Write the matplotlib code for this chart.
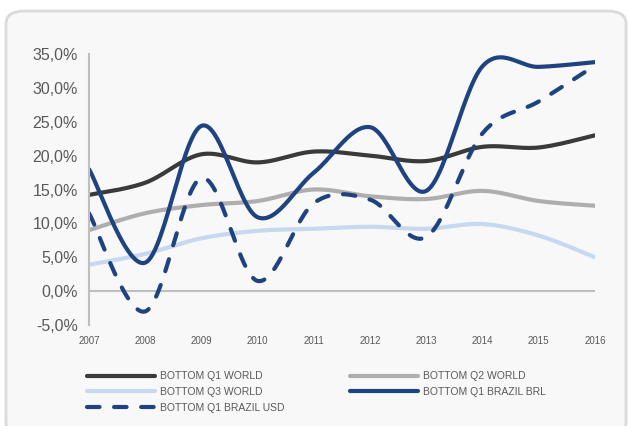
import numpy as np
import matplotlib.pyplot as plt
from matplotlib.patches import FancyBboxPatch
from matplotlib.ticker import FuncFormatter

plt.rcParams['font.family'] = ['Liberation Sans', 'DejaVu Sans']

years = [2007, 2008, 2009, 2010, 2011, 2012, 2013, 2014, 2015, 2016]
q1_world = [14.2, 16.0, 20.2, 19.0, 20.6, 20.0, 19.2, 21.3, 21.2, 23.0]
q2_world = [9.0, 11.5, 12.7, 13.3, 15.0, 14.0, 13.6, 14.8, 13.3, 12.6]
q3_world = [3.9, 5.5, 7.8, 8.9, 9.2, 9.5, 9.2, 9.9, 8.2, 5.0]
q1_brl = [18.0, 4.2, 24.4, 10.9, 17.5, 24.2, 14.8, 33.2, 33.1, 33.8]
q1_usd = [11.5, -3.0, 16.7, 1.5, 13.0, 13.5, 8.0, 23.3, 28.0, 33.3]

series = [
    ('BOTTOM Q1 WORLD', q1_world, '#3a3a3a', '-'),
    ('BOTTOM Q2 WORLD', q2_world, '#b0adad', '-'),
    ('BOTTOM Q3 WORLD', q3_world, '#c6d9f1', '-'),
    ('BOTTOM Q1 BRAZIL BRL', q1_brl, '#1f4380', '-'),
    ('BOTTOM Q1 BRAZIL USD', q1_usd, '#1f4380', (0, (3, 3.5))),
]


def smooth(x, y, n=30):
    # excel-style smoothed line (catmull-rom bezier)
    x = np.asarray(x, float)
    y = np.asarray(y, float)
    px = np.concatenate([[x[0]], x, [x[-1]]])
    py = np.concatenate([[y[0]], y, [y[-1]]])
    xs, ys = [], []
    t = np.linspace(0, 1, n)
    for i in range(1, len(px) - 2):
        p0 = np.array([px[i], py[i]])
        p3 = np.array([px[i + 1], py[i + 1]])
        c1 = p0 + (np.array([px[i + 1], py[i + 1]]) - np.array([px[i - 1], py[i - 1]])) / 6
        c2 = p3 - (np.array([px[i + 2], py[i + 2]]) - np.array([px[i], py[i]])) / 6
        b = ((1 - t) ** 3)[:, None] * p0 + (3 * (1 - t) ** 2 * t)[:, None] * c1 \
            + (3 * (1 - t) * t ** 2)[:, None] * c2 + (t ** 3)[:, None] * p3
        xs.append(b[:, 0])
        ys.append(b[:, 1])
    return np.concatenate(xs), np.concatenate(ys)


fig = plt.figure(figsize=(6.28, 4.26), dpi=100)
fig.patch.set_facecolor('white')
# rounded chart-area frame, bottom runs off the image
fig.patches.append(FancyBboxPatch((6 / 628, -10 / 426), 620 / 628, 425 / 426,
                                  boxstyle='round,pad=0,rounding_size=0.03',
                                  transform=fig.transFigure, facecolor='#f8f8f8',
                                  edgecolor='#dadada', linewidth=2, zorder=-1))

ax = fig.add_axes([89 / 628, 1 - 325 / 426, (595 - 89) / 628, (325 - 54) / 426])
ax.set_facecolor('none')

idx = np.arange(len(years))
for label, vals, color, ls in series:
    sx, sy = smooth(idx, vals)
    ax.plot(sx, sy, color=color, linestyle=ls, linewidth=3, label=label,
            solid_capstyle='round', dash_capstyle='round')

ax.axhline(0, color='#bfbfbf', linewidth=1.5, zorder=0)
ax.set_xlim(0, len(years) - 1)
ax.set_ylim(-5, 35)
ax.set_yticks(np.arange(-5, 36, 5))
ax.yaxis.set_major_formatter(FuncFormatter(lambda v, p: f'{v:.1f}%'.replace('.', ',')))
ax.set_xticks(idx)
ax.set_xticklabels([str(y) for y in years])

for s in ['top', 'right', 'bottom']:
    ax.spines[s].set_visible(False)
ax.spines['left'].set_color('#bfbfbf')
ax.spines['left'].set_linewidth(1.5)
ax.tick_params(axis='y', length=0, labelsize=11.5, colors='#595959', pad=8)
ax.tick_params(axis='x', length=0, labelsize=7, colors='#595959', pad=8)

handles, labels = ax.get_legend_handles_labels()
order = [0, 2, 4, 1, 3]
leg = fig.legend([handles[i] for i in order], [labels[i] for i in order],
                 loc='upper left', bbox_to_anchor=(78 / 628, 1 - 362 / 426),
                 ncol=2, frameon=False, fontsize=7.5, handlelength=6.5,
                 handletextpad=0.5, columnspacing=6.3, labelspacing=0.55,
                 labelcolor='#595959')

fig.savefig('out.png', dpi=100)
